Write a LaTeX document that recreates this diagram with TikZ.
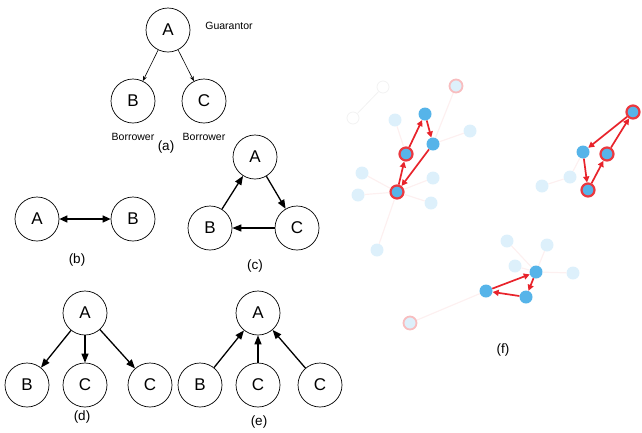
\documentclass[tikz,border=0pt]{standalone}
\usepackage{fontspec}
\setmainfont{Liberation Sans}
\usetikzlibrary{arrows.meta}
\definecolor{dotblue}{HTML}{56B4E9}
\definecolor{linkred}{HTML}{E8232B}
\tikzstyle{agent} = [circle, draw=black, line width=0.7pt, minimum size=44pt, inner sep=0pt, font=\fontsize{17}{20}\selectfont]
\tikzstyle{role} = [font=\fontsize{10.5}{12}\selectfont]
\tikzstyle{tag} = [font=\fontsize{13.5}{16}\selectfont]
\tikzstyle{guard} = [line width=0.6pt,-{Stealth[length=5pt,width=4pt]}]
\tikzstyle{link} = [line width=1.3pt,-{Triangle[length=9pt,width=7pt]}]
\tikzstyle{both} = [line width=1.3pt,{Triangle[length=8pt,width=7pt]}-{Triangle[length=8pt,width=7pt]}]
\tikzstyle{hot} = [circle, fill=dotblue, inner sep=0pt, minimum size=13pt]
\tikzstyle{ring} = [circle, fill=dotblue, draw=linkred!90, line width=2.2pt, inner sep=0pt, minimum size=13pt]
\tikzstyle{dim} = [circle, fill=dotblue!20, inner sep=0pt, minimum size=13pt]
\tikzstyle{dimring} = [circle, fill=dotblue!20, draw=linkred!30, line width=1.8pt, inner sep=0pt, minimum size=13pt]
\tikzstyle{ghost} = [circle, draw=black!5, line width=0.8pt, inner sep=0pt, minimum size=12pt]
\tikzstyle{faint} = [linkred!7, line width=1.2pt]
\tikzstyle{flow} = [linkred, line width=1.7pt,-{Triangle[length=6pt,width=6pt]}]

\begin{document}
\begin{tikzpicture}[x=1pt, y=-1pt, node distance=71pt]
\useasboundingbox (0,0) rectangle (642,432);

\node(ga)[agent] at (168,30){A};
\node(gb)[agent, below of=ga, xshift=-35pt]{B};
\node(gc)[agent, below of=ga, xshift=36pt]{C};
\node[role, right of=ga, node distance=61pt, yshift=4pt]{Guarantor};
\node[role, below of=gb, node distance=36pt]{Borrower};
\node[role, below of=gc, node distance=36pt]{Borrower};
\node[tag] at (166,147){(a)};
\draw[guard] (ga) -- (gb);
\draw[guard] (ga) -- (gc);

\node(ba)[agent] at (37,219){A};
\node(bb)[agent, right of=ba, node distance=96pt]{B};
\draw[both] (ba) -- (bb);
\node[tag] at (77,260){(b)};

\node(ca)[agent] at (255,157){A};
\node(cb)[agent, below of=ca, xshift=-45pt]{B};
\node(cc)[agent, below of=ca, xshift=42pt]{C};
\node[tag] at (255,266){(c)};
\draw[link] (cb) -- (ca);
\draw[link] (ca) -- (cc);
\draw[link] (cc) -- (cb);

\node(da)[agent] at (85,313){A};
\node(db)[agent, below of=da, node distance=72pt, xshift=-58pt]{B};
\node(dc)[agent, below of=da, node distance=72pt]{C};
\node(dd)[agent, below of=da, node distance=72pt, xshift=65pt]{C};
\node[tag] at (82,417){(d)};
\draw[link] (da) -- (db);
\draw[link] (da) -- (dc);
\draw[link] (da) -- (dd);

\node(ea)[agent] at (258,313){A};
\node(eb)[agent, below of=ea, node distance=72pt, xshift=-58pt]{B};
\node(ec)[agent, below of=ea, node distance=72pt]{C};
\node(ed)[agent, below of=ea, node distance=72pt, xshift=62pt]{C};
\node[tag] at (259,422){(e)};
\draw[link] (eb) -- (ea);
\draw[link] (ec) -- (ea);
\draw[link] (ed) -- (ea);

\node(h1)[ghost] at (383,87){};
\node(h2)[ghost] at (353,118){};
\draw[black!5, line width=0.8pt] (h1) -- (h2);

\node(n1)[hot] at (425,114){};
\node(n2)[hot] at (433,144){};
\node(n3)[ring] at (406,154){};
\node(n4)[ring] at (397,192){};
\node(d1)[dim] at (362,173){};
\node(d2)[dim] at (358,195){};
\node(d3)[dim] at (433,178){};
\node(d4)[dim] at (431,203){};
\node(d5)[dim] at (377,250){};
\node(d6)[dim] at (395,120){};
\node(d7)[dim] at (470,131){};
\node(r1)[dimring] at (456,86){};
\draw[faint] (n4) -- (d1);
\draw[faint] (n4) -- (d2);
\draw[faint] (n4) -- (d3);
\draw[faint] (n4) -- (d4);
\draw[faint] (n4) -- (d5);
\draw[faint] (n3) -- (d6);
\draw[faint] (n2) -- (d7);
\draw[faint] (n2) -- (r1);
\draw[flow] (n4) -- (n3);
\draw[flow] (n3) -- (n1);
\draw[flow] (n1) -- (n2);
\draw[flow] (n2) -- (n4);

\node(m1)[ring] at (633,112){};
\node(m2)[hot] at (583,152){};
\node(m3)[ring] at (607,154){};
\node(m4)[ring] at (588,190){};
\node(e1)[dim] at (570,177){};
\node(e2)[dim] at (542,186){};
\draw[faint] (m2) -- (e1);
\draw[faint] (e1) -- (e2);
\draw[flow] (m1) -- (m2);
\draw[flow] (m2) -- (m4);
\draw[flow] (m4) -- (m3);
\draw[flow] (m3) -- (m1);

\node(k1)[hot] at (536,272){};
\node(k2)[hot] at (526,297){};
\node(k3)[hot] at (486,291){};
\node(g1)[dim] at (507,241){};
\node(g2)[dim] at (547,245){};
\node(g3)[dim] at (515,266){};
\node(g4)[dim] at (573,273){};
\node(r2)[dimring] at (410,323){};
\draw[faint] (k1) -- (g1);
\draw[faint] (k1) -- (g2);
\draw[faint] (k1) -- (g3);
\draw[faint] (k1) -- (g4);
\draw[faint] (k3) -- (r2);
\draw[flow] (k3) -- (k1);
\draw[flow] (k1) -- (k2);
\draw[flow] (k2) -- (k3);
\node[tag] at (503,350){(f)};

\end{tikzpicture}
\end{document}
